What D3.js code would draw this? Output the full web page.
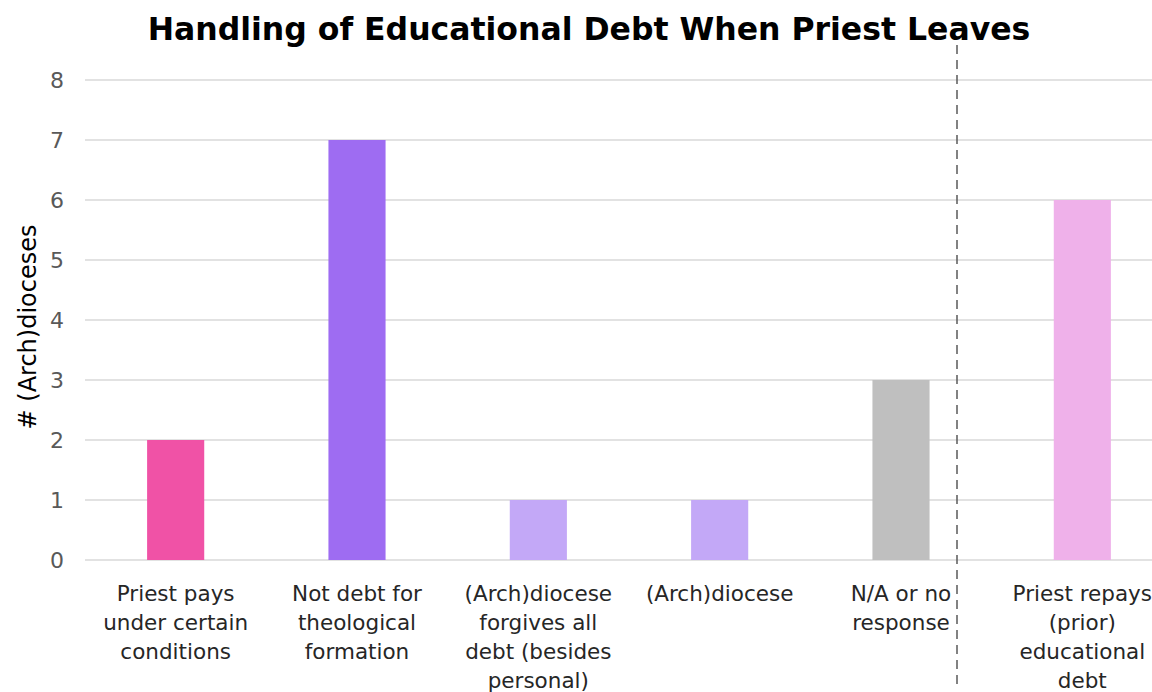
<!DOCTYPE html>
<html>
<head>
<meta charset="utf-8">
<script src="https://cdn.jsdelivr.net/npm/d3@7"></script>
<style>
  body { margin: 0; background: #fff; overflow: hidden; }
  text { font-family: "Century Gothic", "DejaVu Sans", sans-serif; }
</style>
</head>
<body>
<script>
var width = 1152;
var height = 692;

var categories = ["pays", "notdebt", "forgives", "diocese", "na", "repays"];
var labels = [
  ["Priest pays", "under certain", "conditions"],
  ["Not debt for", "theological", "formation"],
  ["(Arch)diocese", "forgives all", "debt (besides", "personal)"],
  ["(Arch)diocese"],
  ["N/A or no", "response"],
  ["Priest repays", "(prior)", "educational", "debt"]
];
var values = [2, 7, 1, 1, 3, 6];
var colors = ["#f052a6", "#9e6cf2", "#c3a8f7", "#c3a8f7", "#bfbfbf", "#efb1ea"];
var yTicks = [0, 1, 2, 3, 4, 5, 6, 7, 8];

var svg = d3.select("body").append("svg")
      .attr("width", width)
      .attr("height", height);

var x = d3.scaleBand()
  .domain(categories)
  .range([85, 1173])
  .paddingInner(0.685)
  .paddingOuter(0.3425);

var y = d3.scaleLinear()
  .domain([0, 8])
  .range([560, 80]);

// gridlines
svg.selectAll("line.grid").data(yTicks).enter().append("line")
  .attr("class", "grid")
  .attr("x1", 85).attr("x2", width)
  .attr("y1", function (d) { return y(d); })
  .attr("y2", function (d) { return y(d); })
  .attr("stroke", "#d9d9d9")
  .attr("stroke-width", 1.5);

// y tick labels
svg.selectAll("text.ytick").data(yTicks).enter().append("text")
  .attr("class", "ytick")
  .attr("x", 57)
  .attr("y", function (d) { return y(d); })
  .attr("dy", "0.36em")
  .attr("text-anchor", "middle")
  .attr("font-size", 22)
  .attr("fill", "#595959")
  .text(function (d) { return d; });

// bars
svg.selectAll("rect.bar").data(values).enter().append("rect")
  .attr("class", "bar")
  .attr("x", function (d, i) { return x(categories[i]); })
  .attr("width", x.bandwidth())
  .attr("y", function (d) { return y(d); })
  .attr("height", function (d) { return y(0) - y(d); })
  .attr("fill", function (d, i) { return colors[i]; });

// category labels
var lab = svg.selectAll("text.xlab").data(labels).enter().append("text")
  .attr("class", "xlab")
  .attr("text-anchor", "middle")
  .attr("font-size", 21.5)
  .attr("fill", "#262626");

lab.selectAll("tspan").data(function (d, i) {
    return d.map(function (s) { return { s: s, i: i }; });
  }).enter().append("tspan")
  .attr("x", function (d) { return x(categories[d.i]) + x.bandwidth() / 2; })
  .attr("y", function (d, j) { return 601 + j * 29; })
  .text(function (d) { return d.s; });

// dashed separator
svg.append("line")
  .attr("x1", 957).attr("x2", 957)
  .attr("y1", 45).attr("y2", 686)
  .attr("stroke", "#595959")
  .attr("stroke-width", 1.5)
  .attr("stroke-dasharray", "9,6");

// y axis title
svg.append("text")
  .attr("transform", "translate(36,327) rotate(-90)")
  .attr("text-anchor", "middle")
  .attr("font-size", 24)
  .attr("fill", "#000")
  .text("# (Arch)dioceses");

// title
svg.append("text")
  .attr("x", 589)
  .attr("y", 40)
  .attr("text-anchor", "middle")
  .attr("font-size", 31.5)
  .attr("font-weight", "bold")
  .attr("fill", "#000")
  .text("Handling of Educational Debt When Priest Leaves");
</script>
</body>
</html>
